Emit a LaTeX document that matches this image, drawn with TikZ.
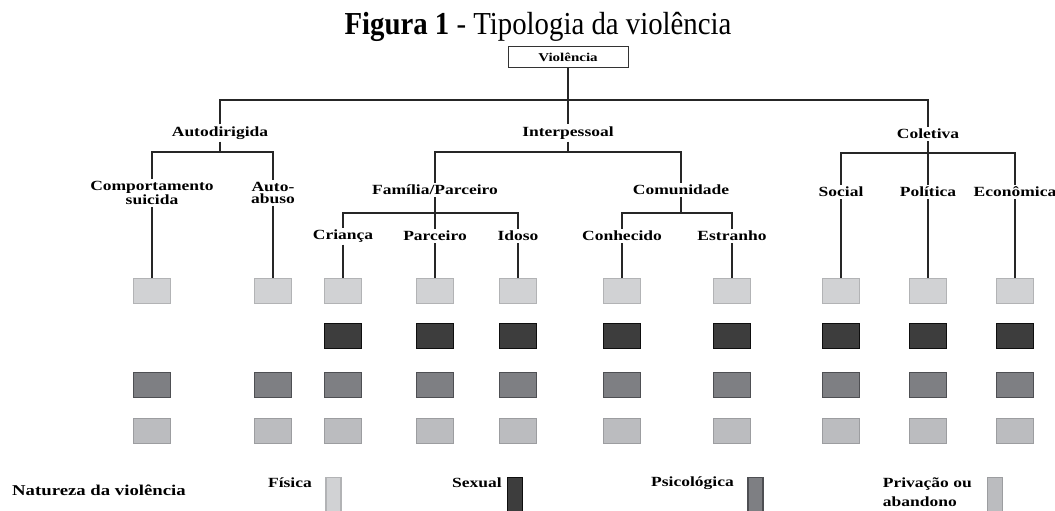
\documentclass[tikz,border=0pt]{standalone}
\usepackage{fontspec}
\setmainfont{Liberation Serif}
\newfontfamily\rotulo[FakeStretch=1.25]{Liberation Serif}
\newfontfamily\titulofont[FakeStretch=0.9]{Liberation Serif}
\definecolor{fisica}{HTML}{D1D2D4}
\definecolor{fisicaborda}{HTML}{B2B3B5}
\definecolor{sexual}{HTML}{3D3D3D}
\definecolor{sexualborda}{HTML}{0E0E0E}
\definecolor{psico}{HTML}{7E7F83}
\definecolor{psicoborda}{HTML}{4E4F53}
\definecolor{privacao}{HTML}{BBBCBF}
\definecolor{privacaoborda}{HTML}{9C9DA0}
\tikzset{
  galho/.style={font=\rotulo\bfseries\fontsize{14}{12}\selectfont, inner sep=2pt, align=center},
  liga/.style={line width=1.3pt, black!85},
  quadro/.style={minimum width=37pt, minimum height=25pt, inner sep=0pt, line width=1.2pt},
  fis/.style={quadro, fill=fisica, draw=fisicaborda},
  sex/.style={quadro, fill=sexual, draw=sexualborda},
  psi/.style={quadro, fill=psico, draw=psicoborda},
  pri/.style={quadro, fill=privacao, draw=privacaoborda},
  legenda/.style={minimum width=15pt, minimum height=34pt, inner sep=0pt, line width=1.2pt, anchor=north}
}

\begin{document}
\begin{tikzpicture}[x=1pt, y=-1pt]
      \useasboundingbox (0,0) rectangle (1055,511);

      \node [anchor=base, font=\titulofont\fontsize{32}{32}\selectfont] (titulo) at (538,35) {\textbf{Figura 1} - Tipologia da violência};
      \node [draw=black!80, line width=1pt, minimum width=120pt, minimum height=21pt, inner sep=0pt,
             font=\rotulo\bfseries\fontsize{12}{12}\selectfont] (viol) at (568,57.5) {Violência};

      \node [galho] (auto) at (220,133) {Autodirigida};
      \node [galho] (interp) at (568,133) {Interpessoal};
      \node [galho] (coll) at (928,134) {Coletiva};

      \node [galho] (suic) at (152,193) {Comportamento\\suicida};
      \node [galho] (abus) at (273,193) {Auto-\\abuso};
      \node [galho] (fam) at (435,190) {Família/Parceiro};
      \node [galho] (comu) at (681,190) {Comunidade};
      \node [galho] (soc) at (841,192) {Social};
      \node [galho] (pol) at (928,192) {Política};
      \node [galho] (econ) at (1015,192) {Econômica};

      \node [galho] (cri) at (343,236) {Criança};
      \node [galho] (parc) at (435,236) {Parceiro};
      \node [galho] (idos) at (518,236) {Idoso};
      \node [galho] (conh) at (622,236) {Conhecido};
      \node [galho] (estr) at (732,236) {Estranho};

      \coordinate (b0) at (568,100);
      \coordinate (b1) at (220,152);
      \coordinate (b2) at (568,152);
      \coordinate (b3) at (928,153);
      \coordinate (b4) at (435,213);
      \coordinate (b5) at (681,213);

      \draw [liga] (viol.south) -- (interp.north);
      \draw [liga] (auto.north) |- (b0) -| (coll.north);
      \draw [liga] (auto.south) -- (b1);
      \draw [liga] (suic.north) |- (b1) -| (abus.north);
      \draw [liga] (interp.south) -- (b2);
      \draw [liga] (fam.north) |- (b2) -| (comu.north);
      \draw [liga] (coll.south) -- (pol.north);
      \draw [liga] (soc.north) |- (b3) -| (econ.north);
      \draw [liga] (fam.south) -- (parc.north);
      \draw [liga] (cri.north) |- (b4) -| (idos.north);
      \draw [liga] (comu.south) -- (b5);
      \draw [liga] (conh.north) |- (b5) -| (estr.north);

      \foreach \n/\x in {suic/152, abus/273} {
        \node [fis] (\n-1) at (\x,291) {};
        \node [psi] (\n-3) at (\x,385) {};
        \node [pri] (\n-4) at (\x,431) {};
      }
      \foreach \n/\x in {cri/343, parc/435, idos/518, conh/622, estr/732, soc/841, pol/928, econ/1015} {
        \node [fis] (\n-1) at (\x,291) {};
        \node [sex] (\n-2) at (\x,336) {};
        \node [psi] (\n-3) at (\x,385) {};
        \node [pri] (\n-4) at (\x,431) {};
      }
      \foreach \n in {suic, abus, cri, parc, idos, conh, estr, soc, pol, econ}
        \draw [liga] (\n.south) -- (\n-1.north);

      \node [galho, anchor=west, font=\rotulo\bfseries\fontsize{15}{15}\selectfont] (natureza) at (10,490) {Natureza da violência};
      \node [galho, anchor=east] (tfis) at (314,483) {Física};
      \node [legenda, fill=fisica, draw=fisicaborda] (lfis) at (333.5,477) {};
      \node [galho, anchor=east] (tsex) at (504,483) {Sexual};
      \node [legenda, fill=sexual, draw=sexualborda] (lsex) at (515,477) {};
      \node [galho, anchor=east] (tpsi) at (736,483) {Psicológica};
      \node [legenda, fill=psico, draw=psicoborda] (lpsi) at (755.5,477) {};
      \node [galho, anchor=east, align=left, font=\rotulo\bfseries\fontsize{14}{19}\selectfont] (tpri) at (974,492) {Privação ou\\abandono};
      \node [legenda, fill=privacao, draw=privacaoborda] (lpri) at (995,477) {};
    \end{tikzpicture}
\end{document}
